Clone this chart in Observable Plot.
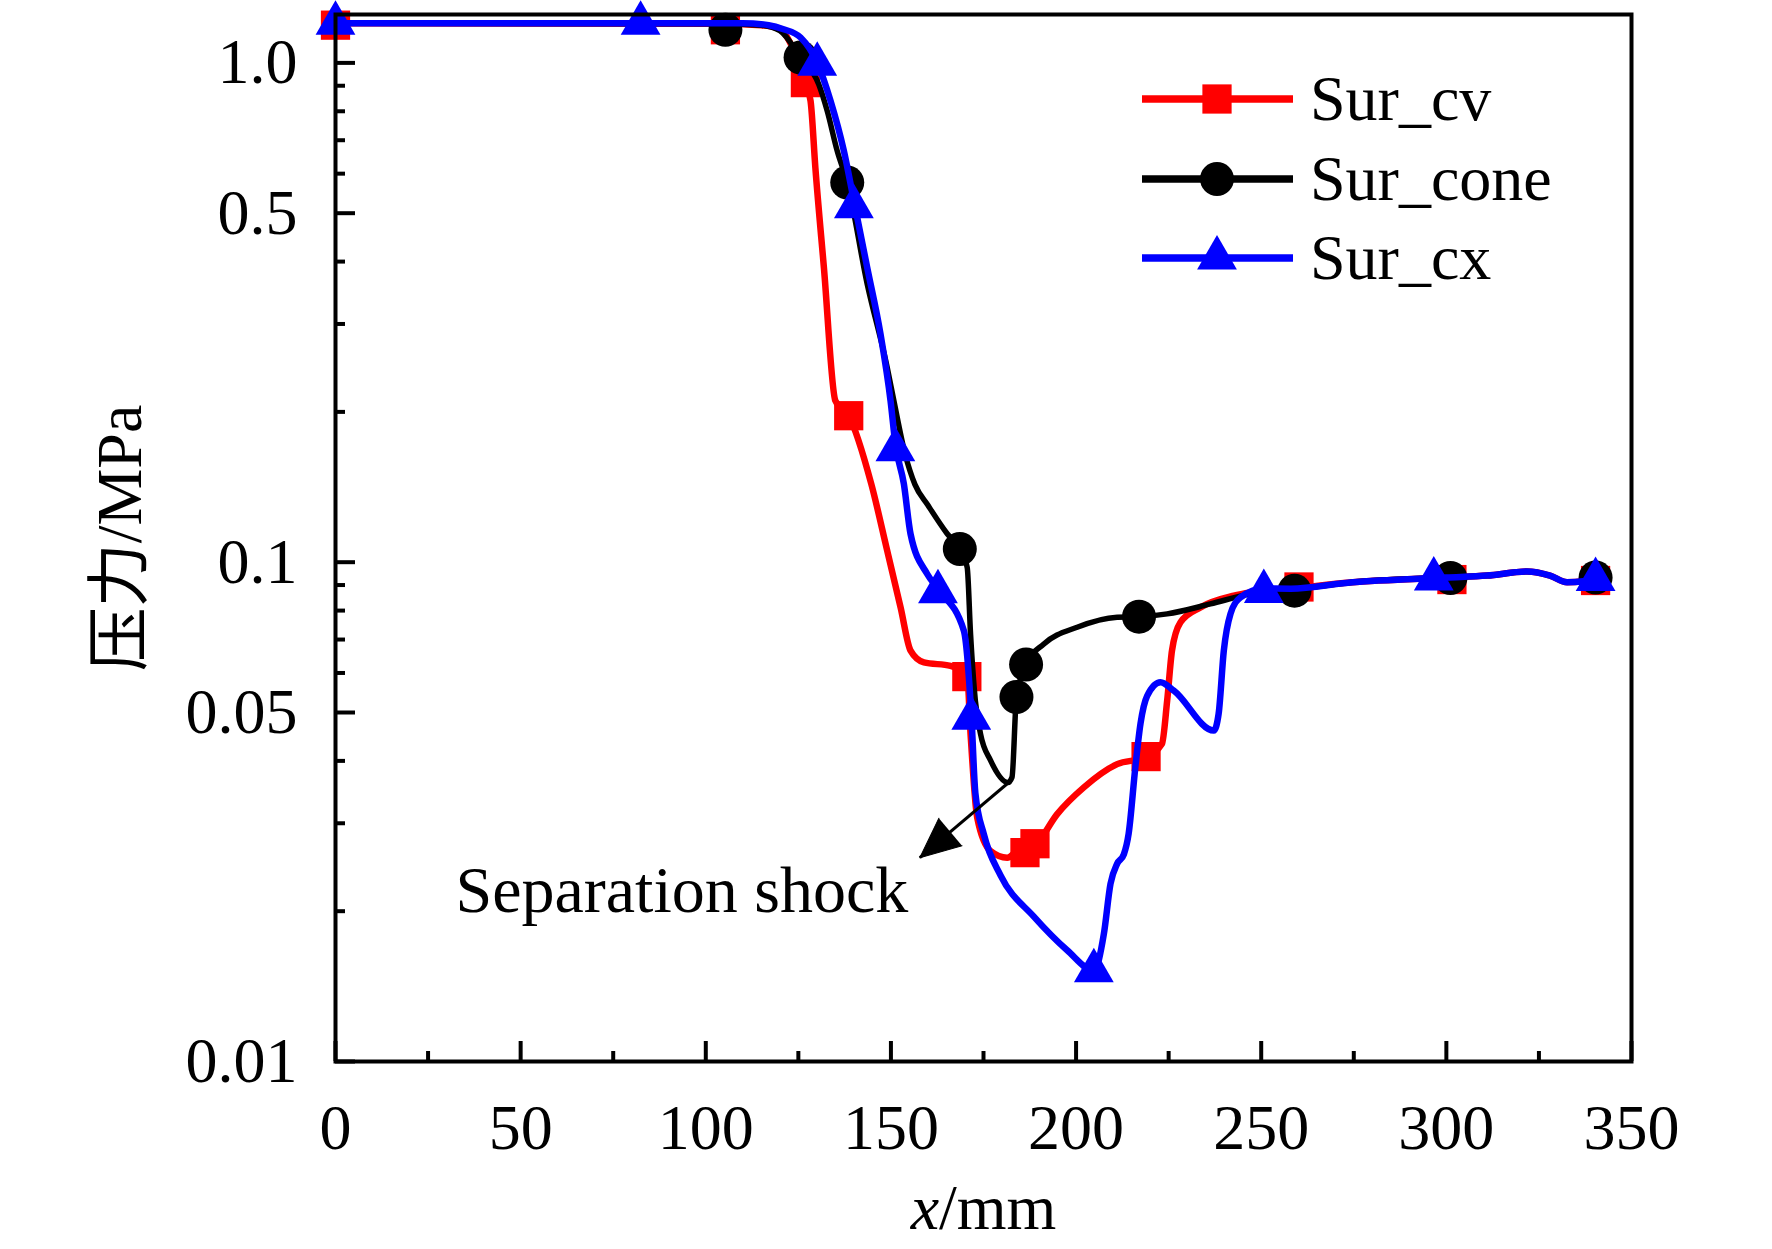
<!DOCTYPE html>
<html>
<head>
<meta charset="utf-8">
<script src="https://cdn.jsdelivr.net/npm/d3@7"></script>
<script src="https://cdn.jsdelivr.net/npm/@observablehq/plot@0.6"></script>
<style>
html, body { margin: 0; padding: 0; background: #fff; }
#wrap { position: relative; width: 1772px; height: 1249px; overflow: hidden; }
#legend { position: absolute; left: 0; top: 0; pointer-events: none; }
</style>
</head>
<body>
<div id="wrap"></div>
<script>
// ---------- data ----------
const seriesNames = ["Sur_cv", "Sur_cone", "Sur_cx"];

// Sur_cv (red, squares)
const cvX = [0, 105, 115, 120, 123.5, 126.9, 128.3, 129.6, 131.9, 135.0, 138.6, 144.7, 149.0, 152.6, 155.3, 158.9, 166.1, 170.6, 171.5, 173.3, 176.9, 181.4, 184.1, 189.0, 194.9, 202.1, 211.1, 218.7, 223.2, 224.6, 225.9, 228.2, 233.6, 242.6, 247.1, 258, 274, 300, 311, 321.8, 328, 332.6, 337, 340.3];
const cvY = [1.2, 1.198, 1.19, 1.17, 1.07, 0.913, 0.839, 0.616, 0.389, 0.2105, 0.1965, 0.1434, 0.1054, 0.0812, 0.0665, 0.063, 0.062, 0.059, 0.0454, 0.0308, 0.0264, 0.0256, 0.0264, 0.0272, 0.0313, 0.0354, 0.0394, 0.0407, 0.0433, 0.0528, 0.0665, 0.0758, 0.0812, 0.0857, 0.087, 0.0885, 0.0911, 0.0932, 0.094, 0.0958, 0.094, 0.0912, 0.0916, 0.0925];
const cvMarkX = [0, 105.3, 126.9, 138.6, 170.5, 186.2, 188.9, 218.9, 260.2, 301.5, 340.3];
const cvMarkY = [1.19, 1.165, 0.913, 0.1965, 0.059, 0.0262, 0.0273, 0.0408, 0.0892, 0.0923, 0.0919];

// Sur_cone (black, circles)
const coneX = [0, 105, 115, 120, 125.6, 130.5, 132.8, 135.5, 138.2, 143.6, 149.0, 150.8, 153.8, 156.5, 160, 165.2, 168.6, 170.6, 171.5, 172.8, 174.2, 176.9, 181.6, 182.7, 183.9, 186.5, 191.3, 200.3, 211.1, 217.0, 224.6, 236.3, 247.1, 258, 274, 300, 311, 321.8, 328, 332.6, 337, 340.3];
const coneY = [1.2, 1.198, 1.19, 1.16, 1.025, 0.906, 0.801, 0.666, 0.576, 0.3605, 0.2455, 0.2105, 0.165, 0.143, 0.13, 0.114, 0.1063, 0.0976, 0.0718, 0.0528, 0.0453, 0.0401, 0.0362, 0.0371, 0.0537, 0.0624, 0.0686, 0.0741, 0.0776, 0.0778, 0.0788, 0.0825, 0.0864, 0.0880, 0.0911, 0.0932, 0.094, 0.0958, 0.094, 0.0912, 0.0916, 0.0925];
const coneMarkX = [105.3, 125.6, 138.2, 168.6, 183.9, 186.5, 217.0, 259.0, 301.1, 340.3];
const coneMarkY = [1.165, 1.025, 0.576, 0.1063, 0.0537, 0.0624, 0.0778, 0.0877, 0.093, 0.0932];

// Sur_cx (blue, triangles)
const cxX = [0, 82.4, 110, 117, 121, 125.6, 130.1, 133.7, 137.3, 140, 143.6, 147.2, 149.9, 151.2, 153.5, 155.3, 159.8, 162.7, 169.7, 171.7, 172.8, 175.1, 179.6, 188.6, 197.6, 204.8, 207.5, 209.3, 211.1, 212.9, 214.2, 216.0, 217.4, 219.2, 222.8, 226.4, 237.2, 238.5, 239.9, 241.7, 244.4, 250.7, 258, 274, 300, 311, 321.8, 328, 332.6, 337, 340.3];
const cxY = [1.2, 1.2, 1.2, 1.19, 1.168, 1.124, 1.0, 0.839, 0.666, 0.529, 0.389, 0.286, 0.2105, 0.1725, 0.1434, 0.1139, 0.0947, 0.0884, 0.0729, 0.0497, 0.0345, 0.0285, 0.0236, 0.0195, 0.0167, 0.0152, 0.018, 0.0227, 0.0249, 0.026, 0.0286, 0.0388, 0.0475, 0.054, 0.0575, 0.0553, 0.046, 0.0497, 0.0665, 0.0788, 0.085, 0.0886, 0.0885, 0.0911, 0.0932, 0.094, 0.0958, 0.094, 0.0912, 0.0916, 0.0925];
const cxMarkX = [0, 82.4, 130.1, 140, 151.2, 162.7, 171.7, 204.8, 250.7, 296.6, 340.3];
const cxMarkY = [1.2, 1.2, 0.994, 0.515, 0.168, 0.0873, 0.0487, 0.0152, 0.0874, 0.0925, 0.0923];

// axes
const xMajor = [0, 50, 100, 150, 200, 250, 300, 350];
const xMinor = [25, 75, 125, 175, 225, 275, 325];
const yMajor = [0.01, 0.05, 0.1, 0.5, 1];
const yMajorLabels = ["0.01", "0.05", "0.1", "0.5", "1.0"];
const yMinor = [0.02, 0.03, 0.04, 0.06, 0.07, 0.08, 0.09, 0.2, 0.3, 0.4, 0.6, 0.7, 0.8, 0.9];

// annotation
const annText = "Separation shock";
const annPos = {x: 32.4, y: 0.022};
const arrowFrom = {x: 181.4, y: 0.036};
const arrowTo = {x: 157.8, y: 0.0256};

// ---------- build ----------
const RED = "#ff0000", BLACK = "#000000", BLUE = "#0000ff";
const FONT = "'Liberation Serif', 'Times New Roman', 'Noto Sans CJK SC', serif";
const TRI_R = 19;
const zip = (X, Y) => X.map((x, i) => ({x, y: Y[i]}));
const cv = zip(cvX, cvY), cone = zip(coneX, coneY), cx = zip(cxX, cxY);
const cvM = zip(cvMarkX, cvMarkY), coneM = zip(coneMarkX, coneMarkY), cxM = zip(cxMarkX, cxMarkY);

const chart = Plot.plot({
  width: 1772,
  height: 1249,
  marginLeft: 335,
  marginRight: 141,
  marginTop: 14,
  marginBottom: 188,
  x: {domain: [0, 350], label: null},
  y: {type: "log", domain: [0.01, 1.25], label: null},
  style: {fontFamily: FONT, fontSize: "64px", color: "black", background: "white", overflow: "visible"},
  marks: [
    // tick marks (inward)
    Plot.axisX({ticks: xMajor, tickSize: -20, strokeWidth: 4, tickFormat: () => "", label: null}),
    Plot.axisX({ticks: xMinor, tickSize: -10, strokeWidth: 4, tickFormat: () => "", label: null}),
    Plot.axisY({ticks: yMajor, tickSize: -20, strokeWidth: 4, tickFormat: () => "", label: null}),
    Plot.axisY({ticks: yMinor, tickSize: -10, strokeWidth: 4, tickFormat: () => "", label: null}),
    // tick labels
    Plot.axisX({ticks: xMajor, tickSize: 0, tickPadding: 42, fontSize: 64, fontFamily: FONT, label: null}),
    Plot.axisY({ticks: yMajor, tickSize: 0, tickPadding: 38, fontSize: 64, fontFamily: FONT, label: null,
      tickFormat: d => yMajorLabels[yMajor.indexOf(d)]}),
    // axis titles
    Plot.text(["压力/MPa"], {text: d => d, frameAnchor: "left", textAnchor: "middle", dx: -215, rotate: -90, fontSize: 64, fontFamily: FONT}),
    Plot.text(["x/mm"], {text: d => d, frameAnchor: "bottom", textAnchor: "middle", dy: 167, fontSize: 64, fontFamily: FONT}),
    // series
    Plot.line(cv, {x: "x", y: "y", stroke: RED, strokeWidth: 6.5, curve: "monotone-x"}),
    Plot.dot(cvM, {x: "x", y: "y", symbol: "square", r: 16.5, fill: RED, stroke: null}),
    Plot.line(cone, {x: "x", y: "y", stroke: BLACK, strokeWidth: 5.5, curve: "monotone-x"}),
    Plot.dot(coneM, {x: "x", y: "y", symbol: "circle", r: 17, fill: BLACK, stroke: null}),
    Plot.line(cx, {x: "x", y: "y", stroke: BLUE, strokeWidth: 6.5, curve: "monotone-x"}),
    Plot.dot(cxM, {x: "x", y: "y", symbol: "triangle2", r: TRI_R, fill: BLUE, stroke: null}),
    // annotation
    Plot.link([arrowFrom], {x1: "x", y1: "y", x2: () => arrowTo.x, y2: () => arrowTo.y, stroke: BLACK, strokeWidth: 3}),
    Plot.vector([arrowTo], {x: "x", y: "y", anchor: "end", length: 40, r: 18, rotate: 230, shape: "spike", fill: BLACK, stroke: BLACK, strokeWidth: 1}),
    Plot.text([annPos], {x: "x", y: "y", text: () => annText, textAnchor: "start", fontSize: 66, fontFamily: FONT}),
    // frame
    Plot.frame({stroke: BLACK, strokeWidth: 4})
  ]
});

const wrap = document.getElementById("wrap");
wrap.appendChild(chart);

// italic x in x-axis title
d3.select(chart).selectAll("text").filter(function () { return this.textContent === "x/mm"; })
  .each(function () {
    const t = d3.select(this);
    t.text(null);
    t.append("tspan").attr("font-style", "italic").text("x");
    t.append("tspan").text("/mm");
  });

// ---------- legend overlay ----------
const legendItems = [
  {name: seriesNames[0], color: RED, symbol: d3.symbolSquare, size: Math.PI * 16.5 * 16.5, y: 99},
  {name: seriesNames[1], color: BLACK, symbol: d3.symbolCircle, size: Math.PI * 17 * 17, y: 179},
  {name: seriesNames[2], color: BLUE, symbol: d3.symbolTriangle2, size: Math.PI * TRI_R * TRI_R, y: 258}
];
const lg = d3.select(wrap).append("svg").attr("id", "legend").attr("width", 1772).attr("height", 1249);
const g = lg.selectAll("g").data(legendItems).join("g").attr("transform", d => `translate(0,${d.y})`);
g.append("line").attr("x1", 1142).attr("x2", 1293).attr("y1", 0).attr("y2", 0)
  .attr("stroke", d => d.color).attr("stroke-width", 7.5);
g.append("path").attr("transform", "translate(1217,0)")
  .attr("d", d => d3.symbol(d.symbol, d.size)()).attr("fill", d => d.color);
g.append("text").attr("x", 1310).attr("y", 21).attr("font-family", FONT).attr("font-size", 64)
  .attr("fill", "black").text(d => d.name);
</script>
</body>
</html>
